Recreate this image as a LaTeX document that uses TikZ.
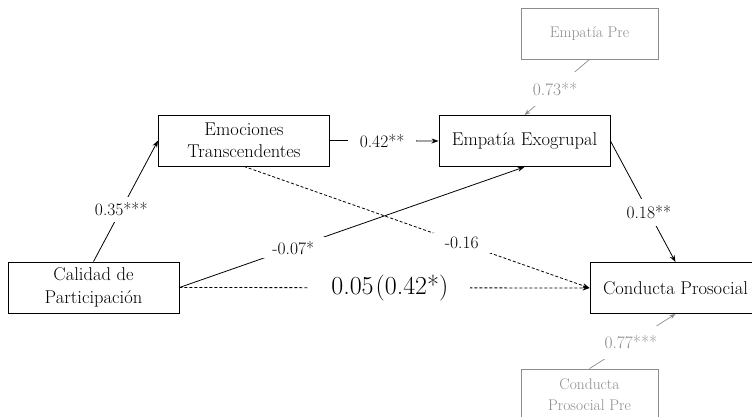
\documentclass[tikz,border=0pt]{standalone}
\usetikzlibrary{arrows.meta}
\definecolor{pregray}{RGB}{140,140,140}
\begin{document}
\begin{tikzpicture}[x=1pt,y=-1pt,
  varbox/.style={draw,line width=0.9pt,minimum width=171pt,minimum height=51pt,inner sep=0pt,
    align=center,font=\fontsize{18.5}{22.5}\selectfont},
  prebox/.style={draw=pregray,text=pregray,line width=0.8pt,minimum width=137pt,minimum height=51pt,
    inner sep=0pt,align=center,font=\fontsize{15.5}{21}\selectfont},
  path/.style={line width=0.8pt,-{Stealth[length=7pt,width=5pt]}},
  dpath/.style={path,dash pattern=on 3pt off 2pt},
  gpath/.style={line width=0.7pt,draw=pregray,-{Stealth[length=6pt,width=4.5pt]}},
  coef/.style={fill=white,inner xsep=12pt,inner ysep=7pt,font=\fontsize{17.5}{20}\selectfont},
  gcoef/.style={coef,text=pregray,inner ysep=10pt},
  bigcoef/.style={fill=white,inner xsep=22pt,inner ysep=4pt,font=\fontsize{26}{28}\selectfont}]
\useasboundingbox (0,0) rectangle (752,417);

% variables
\node[varbox] (cal) at (93.5,287.5) {Calidad de\\Participación};
\node[varbox] (emo) at (244,140.5) {Emociones\\Transcendentes};
\node[varbox] (emp) at (524.5,141) {Empatía Exogrupal};
\node[varbox] (con) at (675.5,288) {Conducta Prosocial};
\node[prebox] (emppre) at (589.5,33.5) {Empatía Pre};
\node[prebox] (conpre) at (589.5,394.5) {Conducta\\Prosocial Pre};

% paths
\draw[path] (cal.north) -- node[coef,inner ysep=6pt,pos=0.43] {0.35***} (emo.west);
\draw[path] (emo.east) -- node[coef,pos=0.48] {0.42**} (emp.west);
\draw[path] (cal.east) -- node[coef,inner xsep=14pt,inner ysep=4pt,pos=0.33] {-0.07*} (emp.south);
\draw[dpath] (emo.south) -- node[coef,inner ysep=4pt,pos=0.63] {-0.16} (con.west);
\draw[dpath] (cal.east) -- node[bigcoef,pos=0.513] {0.05\kern2pt(0.42*)} (con.west);
\draw[path] (emp.east) -- node[coef,pos=0.59] {0.18**} (con.north);

% pre-test controls
\draw[gpath] (emppre.south) -- node[gcoef,pos=0.53] {0.73**} (emp.north);
\draw[gpath] (conpre.north) -- node[gcoef,pos=0.48] {0.77***} (con.south);
\end{tikzpicture}
\end{document}
